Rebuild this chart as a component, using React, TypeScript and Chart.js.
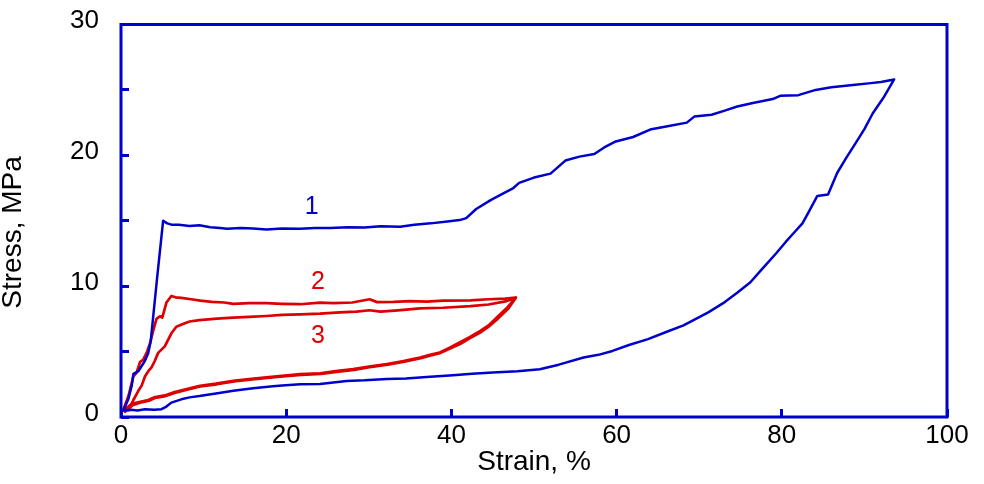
import React, { useEffect, useRef } from 'react';
import { Chart, registerables } from 'chart.js';

Chart.register(...registerables);

const BLUE = '#0000CC';
const RED = '#DD0000';
const FONT = '"Liberation Sans", Arial, Helvetica, sans-serif';

// Curve 1 (blue) — loading branch
const c1LoadStrain = [0.3, 0.9, 1.3, 1.5, 2.1, 2.5, 2.9, 3.3, 3.6, 4.35, 5.1, 5.6, 6.1, 7.0, 8.3, 9.5, 10.8, 12.0, 12.8, 14.5, 16.0, 17.6, 19.5, 21.7, 23.5, 25.3, 27.5, 29.5, 31.4, 33.8, 35.5, 37.5, 39.5, 41.0, 41.8, 43.0, 44.8, 46.0, 47.5, 48.2, 50.0, 52.0, 53.8, 55.5, 57.3, 58.5, 59.9, 62.0, 64.2, 66.0, 68.5, 69.4, 71.5, 73.0, 74.6, 76.5, 78.9, 79.8, 82.0, 84.1, 86.0, 88.9, 90.5, 92.0, 93.6];
const c1LoadStress = [0.5, 1.4, 2.4, 3.3, 3.5, 3.9, 4.3, 4.9, 5.8, 10.5, 15.0, 14.8, 14.7, 14.7, 14.6, 14.65, 14.5, 14.45, 14.38, 14.45, 14.4, 14.33, 14.4, 14.38, 14.45, 14.45, 14.5, 14.48, 14.58, 14.55, 14.7, 14.8, 14.95, 15.05, 15.2, 15.9, 16.6, 17.0, 17.5, 17.9, 18.3, 18.6, 19.6, 19.9, 20.1, 20.6, 21.06, 21.4, 22.0, 22.2, 22.5, 22.96, 23.1, 23.4, 23.73, 24.0, 24.3, 24.55, 24.6, 25.0, 25.2, 25.4, 25.5, 25.6, 25.8];
// Curve 1 (blue) — unloading branch
const c1UnloadStrain = [92.3, 91.0, 90.0, 88.9, 87.8, 86.7, 85.6, 84.3, 83.2, 82.5, 81.5, 80.5, 79.3, 77.6, 76.2, 74.6, 72.9, 71.1, 69.6, 68.1, 66.0, 63.8, 61.5, 59.5, 57.8, 56.0, 53.0, 50.7, 48.0, 45.0, 42.5, 40.2, 37.0, 34.5, 32.2, 29.5, 27.3, 24.1, 21.7, 19.5, 18.4, 16.0, 13.6, 11.5, 9.5, 8.3, 7.3, 6.1, 5.5, 4.9, 4.0, 2.9, 2.0, 1.2, 0.3];
const c1UnloadStress = [24.4, 23.2, 22.0, 20.9, 19.8, 18.65, 17.0, 16.9, 15.6, 14.8, 14.1, 13.4, 12.5, 11.3, 10.3, 9.5, 8.7, 8.0, 7.5, 7.0, 6.5, 5.95, 5.5, 5.05, 4.75, 4.55, 4.0, 3.65, 3.5, 3.4, 3.3, 3.2, 3.05, 2.95, 2.9, 2.8, 2.75, 2.52, 2.5, 2.4, 2.35, 2.2, 2.0, 1.8, 1.6, 1.5, 1.35, 1.1, 0.8, 0.6, 0.55, 0.6, 0.5, 0.55, 0.5];

// Curve 2 (red) — loading branch
const c2LoadStrain = [0.3, 0.9, 1.5, 1.9, 2.3, 2.7, 3.1, 3.5, 3.9, 4.3, 4.7, 5.0, 5.5, 6.1, 6.6, 7.3, 8.5, 9.6, 11.0, 12.5, 13.6, 15.5, 17.6, 19.5, 21.7, 24.1, 25.7, 28.0, 30.1, 31.0, 33.0, 35.0, 37.0, 39.0, 42.3, 44.5, 46.5, 47.8];
const c2LoadStress = [0.6, 1.6, 3.1, 3.4, 4.2, 4.4, 4.9, 5.6, 6.6, 7.5, 7.7, 7.6, 8.75, 9.25, 9.15, 9.1, 9.0, 8.9, 8.8, 8.75, 8.65, 8.7, 8.7, 8.65, 8.62, 8.74, 8.7, 8.75, 9.0, 8.78, 8.8, 8.85, 8.82, 8.9, 8.92, 9.0, 9.05, 9.12];
// Curve 2 (red) — unloading branch
const c2UnloadStrain = [46.8, 45.5, 44.5, 43.5, 42.2, 41.0, 39.8, 38.6, 37.4, 36.2, 34.2, 32.2, 30.0, 28.1, 26.0, 24.1, 21.7, 19.5, 17.6, 15.5, 13.6, 11.5, 9.56, 7.95, 6.5, 5.3, 4.0, 3.3, 2.2, 1.3, 0.3];
const c2UnloadStress = [8.4, 7.6, 7.0, 6.58, 6.1, 5.69, 5.3, 4.93, 4.75, 4.55, 4.28, 4.04, 3.85, 3.66, 3.5, 3.33, 3.28, 3.15, 3.03, 2.9, 2.77, 2.55, 2.39, 2.13, 1.9, 1.65, 1.5, 1.3, 1.15, 1.0, 0.5];

// Curve 3 (red) — loading branch
const c3LoadStrain = [0.9, 1.5, 2.1, 2.5, 2.9, 3.3, 3.7, 4.1, 4.5, 5.3, 5.7, 6.1, 6.7, 7.5, 8.3, 9.5, 11.6, 13.6, 15.5, 17.6, 19.5, 21.7, 24.1, 26.5, 28.5, 30.1, 31.4, 33.5, 36.2, 39.0, 42.3, 44.5, 46.7, 47.8];
const c3LoadStress = [0.5, 1.3, 2.0, 2.4, 3.1, 3.5, 3.8, 4.3, 4.9, 5.4, 5.9, 6.4, 6.9, 7.1, 7.3, 7.4, 7.52, 7.6, 7.65, 7.72, 7.8, 7.85, 7.9, 8.0, 8.05, 8.16, 8.05, 8.15, 8.3, 8.35, 8.48, 8.6, 8.86, 9.12];
// Curve 3 (red) — unloading branch
const c3UnloadStrain = [46.9, 45.6, 44.6, 43.6, 42.3, 41.1, 39.9, 38.7, 37.5, 36.3, 34.3, 32.3, 30.1, 28.2, 26.1, 24.2, 21.8, 19.6, 17.7, 15.6, 13.7, 11.6, 9.6, 8.0, 6.6, 5.4, 4.1, 3.4, 2.3, 1.4, 0.5];
const c3UnloadStress = [8.3, 7.5, 6.95, 6.5, 6.05, 5.6, 5.25, 4.9, 4.7, 4.5, 4.22, 4.0, 3.8, 3.6, 3.45, 3.3, 3.22, 3.1, 2.98, 2.85, 2.72, 2.5, 2.33, 2.08, 1.85, 1.6, 1.45, 1.25, 1.1, 0.9, 0.4];

// Curve number labels
const curveLabels = ['1', '2', '3'];
const labelStrain = [23.1, 23.85, 23.85];
const labelStress = [16.08, 10.28, 6.15];
const labelColors = [BLUE, RED, RED];

const toPoints = (xs: number[], ys: number[]) => xs.map((x, i) => ({ x, y: ys[i] }));

const framePlugin = {
  id: 'frame',
  afterDatasetsDraw(chart: any) {
    const { ctx, chartArea: a } = chart;
    ctx.save();
    ctx.strokeStyle = BLUE;
    ctx.lineWidth = 3;
    ctx.strokeRect(a.left, a.top, a.right - a.left, a.bottom - a.top);
    ctx.restore();
  },
};

const curveLabelPlugin = {
  id: 'curveLabels',
  afterDatasetsDraw(chart: any) {
    const { ctx } = chart;
    const xs = chart.scales.x;
    const ys = chart.scales.y;
    ctx.save();
    ctx.font = `25px ${FONT}`;
    ctx.textAlign = 'center';
    ctx.textBaseline = 'middle';
    curveLabels.forEach((t, i) => {
      ctx.fillStyle = labelColors[i];
      ctx.fillText(t, xs.getPixelForValue(labelStrain[i]), ys.getPixelForValue(labelStress[i]));
    });
    ctx.restore();
  },
};

export default function App() {
  const ref = useRef<HTMLCanvasElement | null>(null);

  useEffect(() => {
    if (!ref.current) return;
    const line = (data: any, color: string, width: number) => ({
      data,
      borderColor: color,
      backgroundColor: color,
      borderWidth: width,
      showLine: true,
      pointRadius: 0,
      pointHoverRadius: 0,
      tension: 0,
      borderJoinStyle: 'round' as const,
      borderCapStyle: 'round' as const,
    });
    const chart = new Chart(ref.current, {
      type: 'scatter',
      data: {
        datasets: [
          line(toPoints([...c1LoadStrain, ...c1UnloadStrain], [...c1LoadStress, ...c1UnloadStress]), BLUE, 2.5),
          line(toPoints([...c2LoadStrain, ...c2UnloadStrain], [...c2LoadStress, ...c2UnloadStress]), RED, 2.7),
          line(toPoints([...c3LoadStrain, ...c3UnloadStrain], [...c3LoadStress, ...c3UnloadStress]), RED, 2.7),
        ],
      },
      options: {
        animation: false,
        responsive: false,
        devicePixelRatio: 1,
        layout: { padding: { left: 0, right: 37, top: 24.5, bottom: 0 } },
        plugins: { legend: { display: false }, tooltip: { enabled: false } },
        scales: {
          x: {
            type: 'linear',
            min: 0,
            max: 100,
            afterFit: (s: any) => { s.height = 67; s.paddingLeft = 0; s.paddingRight = 0; },
            border: { display: false },
            grid: { drawOnChartArea: false, drawTicks: true, tickLength: -8, lineWidth: 3, color: BLUE },
            ticks: { stepSize: 20, padding: 11, color: '#000', font: { family: FONT, size: 26 }, maxRotation: 0 },
            title: { display: true, text: 'Strain, %', color: '#000', font: { family: FONT, size: 28, lineHeight: 1.2 }, padding: { top: 0, bottom: 5 } },
          },
          y: {
            type: 'linear',
            min: 0,
            max: 30,
            afterFit: (s: any) => { s.width = 121; s.paddingTop = 0; s.paddingBottom = 0; },
            border: { display: false },
            grid: { drawOnChartArea: false, drawTicks: true, tickLength: -8, lineWidth: 3, color: BLUE },
            ticks: {
              stepSize: 5,
              padding: 30,
              labelOffset: -3.5,
              color: '#000',
              font: { family: FONT, size: 26 },
              callback: (v: any) => (Number(v) % 10 === 0 ? String(v) : ''),
            },
            title: { display: true, text: 'Stress, MPa   ', color: '#000', font: { family: FONT, size: 28, lineHeight: 0.95 }, padding: { top: 0, bottom: 0 } },
          },
        },
      },
      plugins: [framePlugin, curveLabelPlugin],
    });
    return () => chart.destroy();
  }, []);

  return (
    <div style={{ position: 'absolute', left: 0, top: 0, width: 984, height: 484, background: '#fff' }}>
      <canvas ref={ref} width={984} height={484} style={{ display: 'block', width: 984, height: 484 }} />
    </div>
  );
}
